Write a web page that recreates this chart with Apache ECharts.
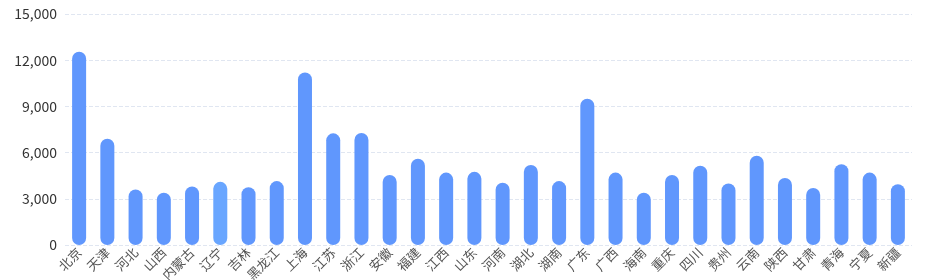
<!DOCTYPE html>
<html><head><meta charset="utf-8">
<script src="https://cdn.jsdelivr.net/npm/echarts@6/dist/echarts.min.js"></script>
<style>html,body{margin:0;padding:0;background:#fff}#c{width:930px;height:280px}</style>
</head><body><div id="c"></div>
<script>
const categories = ['北京','天津','河北','山西','内蒙古','辽宁','吉林','黑龙江','上海','江苏','浙江','安徽','福建','江西','山东','河南','湖北','湖南','广东','广西','海南','重庆','四川','贵州','云南','陕西','甘肃','青海','宁夏','新疆'];
const values = [12550,6900,3600,3400,3800,4100,3750,4150,11200,7250,7270,4550,5600,4700,4750,4050,5200,4150,9500,4700,3400,4550,5150,4000,5800,4350,3700,5250,4700,3950];
const highlightIndex = 5;
const yTicks = {min:0, max:15000, interval:3000};

const chart = echarts.init(document.getElementById('c'), null, {renderer:'canvas'});
chart.setOption({
  animation:false,
  grid:{left:65, right:18, top:14, bottom:35, containLabel:false, outerBoundsMode:'none'},
  xAxis:{type:'category', data:categories,
    axisLine:{show:false}, axisTick:{show:false},
    axisLabel:{rotate:45, interval:0, color:'#555', fontSize:13, margin:5, fontFamily:'Noto Sans CJK SC'}},
  yAxis:{type:'value', min:yTicks.min, max:yTicks.max, interval:yTicks.interval,
    axisLine:{show:false}, axisTick:{show:false},
    axisLabel:{color:'#333', fontSize:14, margin:8, fontFamily:'Noto Sans CJK SC'},
    splitLine:{lineStyle:{type:'dashed', color:'#e0e6f1'}}},
  series:[{type:'bar', barWidth:14,
    data: values.map((v,i)=> i===highlightIndex ? {value:v, itemStyle:{color:'#69a6ff'}} : v),
    itemStyle:{color:'#6097fd', borderRadius:7}}]
});
</script></body></html>
